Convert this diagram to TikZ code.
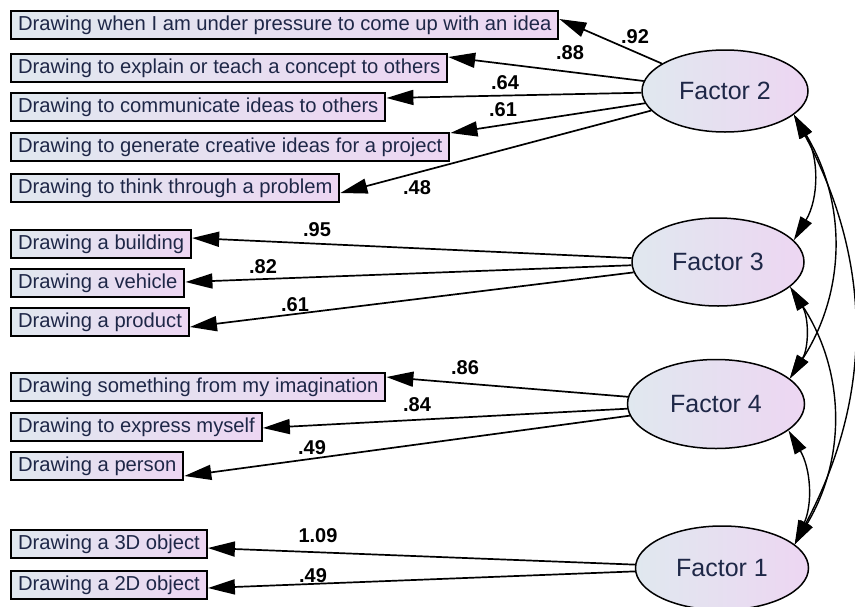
\documentclass[tikz,border=0pt]{standalone}
\usepackage{fontspec}
\setmainfont{Liberation Sans}
\usetikzlibrary{arrows.meta,shapes.geometric}
\definecolor{cleft}{HTML}{E0E8EF}
\definecolor{cright}{HTML}{EDD6F2}
\definecolor{cink}{HTML}{1E2747}

\begin{document}
\begin{tikzpicture}[
    x=1pt, y=-1pt,
    item/.style={draw=black, line width=2pt, left color=cleft, right color=cright,
      anchor=north west, minimum height=28pt, inner xsep=7pt, inner ysep=0pt,
      text=cink, font=\fontsize{20.2}{24}\selectfont},
    factor/.style={ellipse, draw=black, line width=1.5pt, left color=cleft,
      right color=cright, inner sep=0pt, text=cink, font=\fontsize{25}{30}\selectfont},
    load/.style={line width=1.7pt, -{Triangle[length=27pt,width=15pt]}},
    corr/.style={line width=1.4pt,
      {Triangle[length=24pt,width=13pt]}-{Triangle[length=24pt,width=13pt]}},
    wt/.style={font=\bfseries\fontsize{20}{24}\selectfont, inner sep=0pt},
  ]
  \useasboundingbox (0,0) rectangle (855,606);

  % observed items
  \node[item] (b1) at (10,10) {Drawing when I am under pressure to come up with an idea};
  \node[item] (b2) at (10,53) {Drawing to explain or teach a concept to others};
  \node[item] (b3) at (10,92) {Drawing to communicate ideas to others};
  \node[item] (b4) at (10,132) {Drawing to generate creative ideas for a project};
  \node[item] (b5) at (10,173) {Drawing to think through a problem};
  \node[item] (b6) at (10,229) {Drawing a building};
  \node[item] (b7) at (10,268) {Drawing a vehicle};
  \node[item] (b8) at (10,307) {Drawing a product};
  \node[item] (b9) at (10,372) {Drawing something from my imagination};
  \node[item] (b10) at (10,412) {Drawing to express myself};
  \node[item] (b11) at (10,451) {Drawing a person};
  \node[item] (b12) at (10,529) {Drawing a 3D object};
  \node[item] (b13) at (10,570) {Drawing a 2D object};

  % latent factors
  \node[factor, minimum width=166pt, minimum height=82pt] (f2) at (725,91) {Factor 2};
  \node[factor, minimum width=172pt, minimum height=88pt] (f3) at (718,262) {Factor 3};
  \node[factor, minimum width=177pt, minimum height=89pt] (f4) at (716,404) {Factor 4};
  \node[factor, minimum width=173pt, minimum height=84pt] (f1) at (722,568) {Factor 1};

  % loadings
  \draw[load] (f2) -- ([yshift=-9pt]b1.north east);
  \draw[load] (f2) -- ([yshift=-4pt]b2.north east);
  \draw[load] (f2) -- ([yshift=-6pt]b3.north east);
  \draw[load] (f2) -- ([yshift=-1pt]b4.north east);
  \draw[load] (f2) -- ([yshift=-20pt]b5.north east);
  \draw[load] (f3) -- ([yshift=-9pt]b6.north east);
  \draw[load] (f3) -- ([yshift=-14pt]b7.north east);
  \draw[load] (f3) -- ([yshift=-20pt]b8.north east);
  \draw[load] (f4) -- ([yshift=-5pt]b9.north east);
  \draw[load] (f4) -- ([yshift=-16pt]b10.north east);
  \draw[load] (f4) -- ([yshift=-25pt]b11.north east);
  \draw[load] (f1) -- ([yshift=-19pt]b12.north east);
  \draw[load] (f1) -- ([yshift=-18pt]b13.north east);

  \node[wt] (w1) at (635,37) {.92};
  \node[wt] (w2) at (570,53) {.88};
  \node[wt] (w3) at (505,83) {.64};
  \node[wt] (w4) at (503,110) {.61};
  \node[wt] (w5) at (417,188) {.48};
  \node[wt] (w6) at (317,230) {.95};
  \node[wt] (w7) at (263,267) {.82};
  \node[wt] (w8) at (295,305) {.61};
  \node[wt] (w9) at (465,368) {.86};
  \node[wt] (w10) at (417,405) {.84};
  \node[wt] (w11) at (312,448) {.49};
  \node[wt] (w12) at (318,536) {1.09};
  \node[wt] (w13) at (313,576) {.49};

  % correlations between factors
  \draw[corr] (f2.-19) to[bend left=31] (f3.16);
  \draw[corr] (f2.-19) to[bend left=32] (f4.19);
  \draw[corr] (f2.-19) to[bend left=28] (f1.18);
  \draw[corr] (f3.-19) to[bend left=32] (f4.19);
  \draw[corr] (f3.-19) to[bend left=32] (f1.18);
  \draw[corr] (f4.-20) to[bend left=27] (f1.18);
\end{tikzpicture}
\end{document}
